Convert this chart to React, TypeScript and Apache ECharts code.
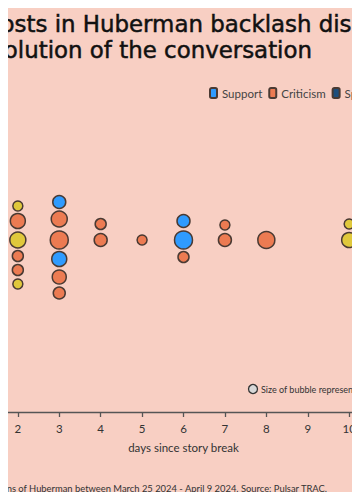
import React, { useEffect, useRef } from "react";
import * as echarts from "echarts";

const seriesNames = ["Support", "Criticism", "Speculation", "Neutral"];
const seriesColors = ["#2f9bff", "#ec7b52", "#1d4e7c", "#e0c83c"];

// [day since story break, vertical swarm offset, bubble size]
const supportData = [
  [3, 38, 13],
  [3, -19, 15],
  [6, 19, 13],
  [6, 0, 18],
];
const criticismData = [
  [2, 19, 15],
  [2, -16, 11],
  [2, -30, 11],
  [3, 21, 16],
  [3, 0, 18],
  [3, -37, 14],
  [3, -53, 12],
  [4, 16, 11],
  [4, 0, 13],
  [5, 0, 10],
  [6, -17, 11],
  [7, 15, 10],
  [7, 0, 13],
  [8, 0, 17],
];
const speculationData: number[][] = [];
const neutralData = [
  [2, 34, 10],
  [2, 0, 16],
  [2, -44, 10],
  [10, 16, 10],
  [10, 0, 15],
];

const titleLine1 = "posts in Huberman backlash discussion";
const titleLine2 = "Evolution of the conversation";
const sizeNote = "Size of bubble represents engagement";
const sourceNote =
  "Posts mentions of Huberman between March 25 2024 - April 9 2024. Source: Pulsar TRAC.";
const xName = "days since story break";

const TFONT = "'DejaVu Sans', Inter, sans-serif";
const FONT = "Lato, Inter, sans-serif";

export default function App() {
  const ref = useRef<HTMLDivElement>(null);
  useEffect(() => {
    if (!ref.current) return;
    const chart = echarts.init(ref.current, null, { renderer: "svg" });
    const allData = [supportData, criticismData, speculationData, neutralData];
    chart.setOption({
      animation: false,
      backgroundColor: "#f8cfc3",
      textStyle: { fontFamily: FONT },
      legend: {
        left: 209,
        top: 87,
        width: 600,
        padding: 0,
        icon: "roundRect",
        itemWidth: 7,
        itemHeight: 10,
        itemGap: 6,
        textStyle: { fontSize: 11.5, color: "#444", fontFamily: FONT },
        data: seriesNames,
      },
      grid: {
        left: -65,
        right: -72,
        top: 68,
        bottom: 88,
        outerBoundsMode: "none",
        containLabel: false,
      },
      xAxis: {
        type: "value",
        min: 0,
        max: 12,
        interval: 1,
        name: xName,
        nameLocation: "middle",
        nameGap: 29,
        nameTextStyle: { fontSize: 11.5, color: "#333", fontFamily: FONT },
        axisLine: { show: true, onZero: false, lineStyle: { color: "#555", width: 1.3 } },
        axisTick: { show: true, length: 5, lineStyle: { color: "#555", width: 1.3 } },
        axisLabel: { fontSize: 11.5, color: "#333", margin: 10, fontFamily: FONT },
        splitLine: { show: false },
      },
      yAxis: {
        type: "value",
        min: -172,
        max: 172,
        show: false,
        splitLine: { show: false },
      },
      series: seriesNames.map((name, i) => ({
        name,
        type: "scatter",
        data: allData[i],
        symbolSize: (v: number[]) => v[2],
        itemStyle: {
          color: seriesColors[i],
          borderColor: "#4a3a33",
          borderWidth: 1.5,
          opacity: 1,
        },
      })),
      graphic: [
        {
          type: "text",
          x: -14,
          y: 12.5,
          style: {
            text: titleLine1,
            fontSize: 22.9,
            fill: "#111",
            stroke: "#111",
            lineWidth: 0.5,
            fontFamily: TFONT,
          },
        },
        {
          type: "text",
          x: 312,
          y: 38,
          style: {
            text: titleLine2,
            fontSize: 22.9,
            fill: "#111",
            stroke: "#111",
            lineWidth: 0.5,
            fontFamily: TFONT,
            textAlign: "right",
          },
        },
        {
          type: "circle",
          shape: { cx: 253, cy: 389, r: 4.5 },
          style: { fill: "#d8d8d8", stroke: "#333", lineWidth: 1.3 },
        },
        {
          type: "text",
          x: 261,
          y: 389,
          style: {
            text: sizeNote,
            fontSize: 9,
            fill: "#333",
            fontFamily: FONT,
            textVerticalAlign: "middle",
          },
        },
        {
          type: "text",
          x: 327,
          y: 488,
          style: {
            text: sourceNote,
            fontSize: 9.4,
            fill: "#333",
            fontFamily: FONT,
            textAlign: "right",
            textVerticalAlign: "middle",
          },
        },
      ],
    });
    return () => chart.dispose();
  }, []);
  return <div ref={ref} style={{ width: 360, height: 500, margin: -8 }} />;
}
